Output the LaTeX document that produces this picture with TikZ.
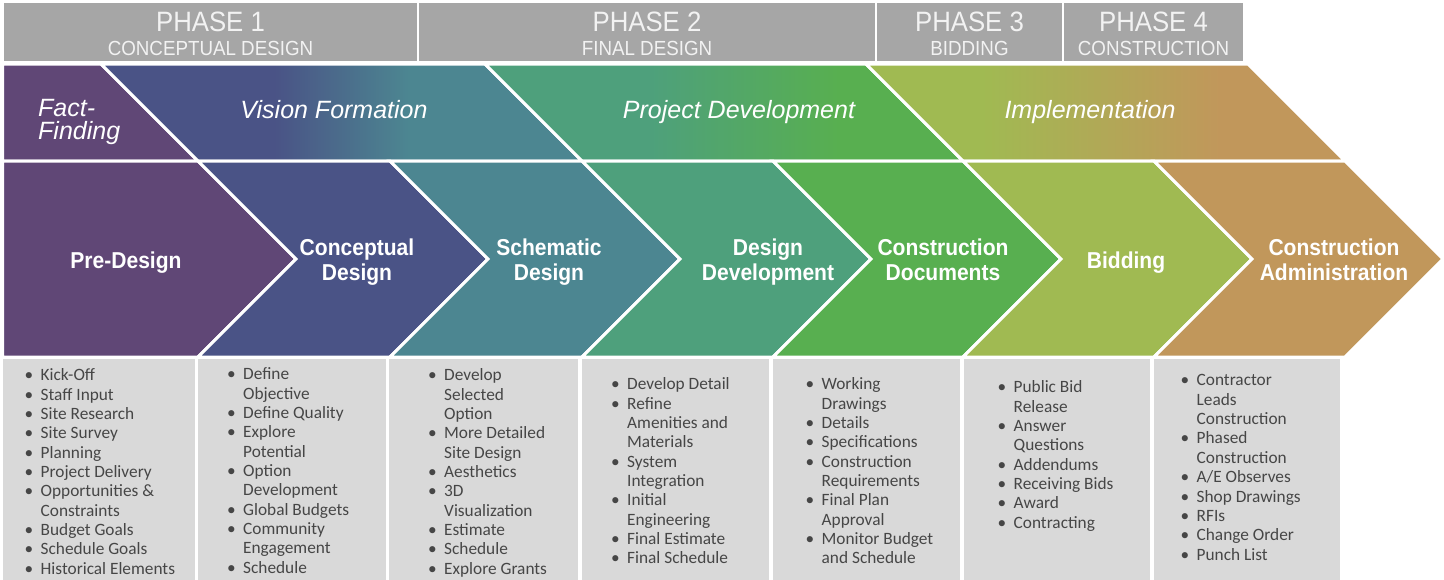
\documentclass[tikz,border=0pt]{standalone}
\usepackage{fontspec}
\setmainfont{Liberation Sans}
\newfontfamily\listfont{Carlito}
\newfontfamily\narrowfont[FakeStretch=0.92]{Liberation Sans}
\newfontfamily\boldfont[FakeStretch=0.915]{Liberation Sans}

\definecolor{phasegray}{RGB}{166,166,166}
\definecolor{phasetext}{RGB}{242,242,242}
\definecolor{listgray}{RGB}{217,217,217}
\definecolor{listtext}{RGB}{70,70,70}
\definecolor{cpurple}{RGB}{96,71,118}
\definecolor{cnavy}{RGB}{74,83,134}
\definecolor{cteal}{RGB}{76,134,145}
\definecolor{cseagreen}{RGB}{78,160,124}
\definecolor{cgreen}{RGB}{88,175,80}
\definecolor{clime}{RGB}{160,186,82}
\definecolor{ctan}{RGB}{193,151,91}

\pgfdeclarehorizontalshading{visionshade}{100bp}{color(0bp)=(cnavy); color(43bp)=(cnavy); color(57bp)=(cteal); color(100bp)=(cteal)}
\pgfdeclarehorizontalshading{projectshade}{100bp}{color(0bp)=(cseagreen); color(42bp)=(cseagreen); color(62bp)=(cgreen); color(100bp)=(cgreen)}
\pgfdeclarehorizontalshading{implementshade}{100bp}{color(0bp)=(clime); color(37bp)=(clime); color(62bp)=(ctan); color(100bp)=(ctan)}

\newcommand{\itm}[1]{\makebox[16pt][l]{\textbullet}#1}
\newcommand{\cnt}[1]{\makebox[16pt]{}#1}

\begin{document}
\begin{tikzpicture}[x=1pt, y=-1pt,
	phasebox/.style={fill=phasegray},
	phasetitle/.style={anchor=base, text=phasetext, inner sep=0, font=\narrowfont\fontsize{28}{30}\selectfont},
	phasesub/.style={anchor=base, text=phasetext, inner sep=0, font=\narrowfont\fontsize{20.4}{22}\selectfont},
	band/.style={draw=white, line width=3pt},
	stagelabel/.style={text=white, align=center, inner sep=0, font=\boldfont\bfseries\fontsize{23}{25}\selectfont},
	themelabel/.style={anchor=base, text=white, inner sep=0, align=left, font=\itshape\fontsize{25}{23}\selectfont},
	listbox/.style={fill=listgray},
	listnode/.style={anchor=north west, inner sep=0, align=left, text=listtext, font=\listfont\fontsize{17.3}{19.35}\selectfont}]
	\useasboundingbox (0,0) rectangle (1444,579);
	
	% phase header
	\fill[phasebox] (4,3) rectangle (417,61);
	\fill[phasebox] (419,3) rectangle (875,61);
	\fill[phasebox] (877,3) rectangle (1062,61);
	\fill[phasebox] (1064,3) rectangle (1243,61);
	\node[phasetitle] (ph1) at (210.5,31.7) {PHASE 1};
	\node[phasesub] (ph1sub) at (210.5,55.5) {CONCEPTUAL DESIGN};
	\node[phasetitle] (ph2) at (647,31.7) {PHASE 2};
	\node[phasesub] (ph2sub) at (647,55.5) {FINAL DESIGN};
	\node[phasetitle] (ph3) at (969.5,31.7) {PHASE 3};
	\node[phasesub] (ph3sub) at (969.5,55.5) {BIDDING};
	\node[phasetitle] (ph4) at (1153.5,31.7) {PHASE 4};
	\node[phasesub] (ph4sub) at (1153.5,55.5) {CONSTRUCTION};
	
	% upper band
	\path[band, fill=cpurple] (2.5,64) -- (101,64) -- (198,161) -- (2.5,161) -- cycle;
	\path[band, shade, shading=visionshade] (101,64) -- (485,64) -- (582,161) -- (198,161) -- cycle;
	\path[band, shade, shading=projectshade] (485,64) -- (866,64) -- (963,161) -- (582,161) -- cycle;
	\path[band, shade, shading=implementshade] (866,64) -- (1248,64) -- (1345,161) -- (963,161) -- cycle;
	\node[themelabel, anchor=north west] (factfinding) at (38,99) {Fact-\\Finding};
	\node[themelabel] (vision) at (334,118) {Vision Formation};
	\node[themelabel] (project) at (739,118) {Project Development};
	\node[themelabel] (implement) at (1090,118) {Implementation};
	
	% lower band
	\path[band, fill=cpurple] (2.5,161) -- (198,161) -- (296,259) -- (198,357) -- (2.5,357) -- cycle;
	\path[band, fill=cnavy] (198,161) -- (390,161) -- (488,259) -- (390,357) -- (198,357) -- (296,259) -- cycle;
	\path[band, fill=cteal] (390,161) -- (582,161) -- (680,259) -- (582,357) -- (390,357) -- (488,259) -- cycle;
	\path[band, fill=cseagreen] (582,161) -- (773,161) -- (871,259) -- (773,357) -- (582,357) -- (680,259) -- cycle;
	\path[band, fill=cgreen] (773,161) -- (963,161) -- (1061,259) -- (963,357) -- (773,357) -- (871,259) -- cycle;
	\path[band, fill=clime] (963,161) -- (1154,161) -- (1252,259) -- (1154,357) -- (963,357) -- (1061,259) -- cycle;
	\path[band, fill=ctan] (1154,161) -- (1345,161) -- (1443,259) -- (1345,357) -- (1154,357) -- (1252,259) -- cycle;
	\node[stagelabel] (predesign) at (126,263) {Pre-Design};
	\node[stagelabel] (conceptual) at (357,262) {Conceptual\\Design};
	\node[stagelabel] (schematic) at (549,262) {Schematic\\Design};
	\node[stagelabel] (designdev) at (768,262) {Design\\Development};
	\node[stagelabel] (constrdocs) at (943,260) {Construction\\Documents};
	\node[stagelabel] (bidding) at (1126,263) {Bidding};
	\node[stagelabel] (constradmin) at (1334,260) {Construction\\Administration};
	
	% task lists
	\fill[listbox] (3,359) rectangle (195,582);
	\fill[listbox] (198,359) rectangle (386,582);
	\fill[listbox] (389,359) rectangle (578,582);
	\fill[listbox] (582,359) rectangle (769,582);
	\fill[listbox] (773,359) rectangle (960,582);
	\fill[listbox] (964,359) rectangle (1150,582);
	\fill[listbox] (1154,359) rectangle (1340,582);
	\node[listnode] (predesignlist) at (24.5,368.5) {\itm{Kick-Off}\\\itm{Staff Input}\\\itm{Site Research}\\\itm{Site Survey}\\\itm{Planning}\\\itm{Project Delivery}\\\itm{Opportunities \&}\\\cnt{Constraints}\\\itm{Budget Goals}\\\itm{Schedule Goals}\\\itm{Historical Elements}};
	\node[listnode] (conceptuallist) at (227,367.5) {\itm{Define}\\\cnt{Objective}\\\itm{Define Quality}\\\itm{Explore}\\\cnt{Potential}\\\itm{Option}\\\cnt{Development}\\\itm{Global Budgets}\\\itm{Community}\\\cnt{Engagement}\\\itm{Schedule}};
	\node[listnode] (schematiclist) at (428,368.5) {\itm{Develop}\\\cnt{Selected}\\\cnt{Option}\\\itm{More Detailed}\\\cnt{Site Design}\\\itm{Aesthetics}\\\itm{3D}\\\cnt{Visualization}\\\itm{Estimate}\\\itm{Schedule}\\\itm{Explore Grants}};
	\node[listnode] (designdevlist) at (611,377.5) {\itm{Develop Detail}\\\itm{Refine}\\\cnt{Amenities and}\\\cnt{Materials}\\\itm{System}\\\cnt{Integration}\\\itm{Initial}\\\cnt{Engineering}\\\itm{Final Estimate}\\\itm{Final Schedule}};
	\node[listnode] (constrdocslist) at (805.5,377.5) {\itm{Working}\\\cnt{Drawings}\\\itm{Details}\\\itm{Specifications}\\\itm{Construction}\\\cnt{Requirements}\\\itm{Final Plan}\\\cnt{Approval}\\\itm{Monitor Budget}\\\cnt{and Schedule}};
	\node[listnode] (biddinglist) at (997.5,380.5) {\itm{Public Bid}\\\cnt{Release}\\\itm{Answer}\\\cnt{Questions}\\\itm{Addendums}\\\itm{Receiving Bids}\\\itm{Award}\\\itm{Contracting}};
	\node[listnode] (constradminlist) at (1180.5,374.5) {\itm{Contractor}\\\cnt{Leads}\\\cnt{Construction}\\\itm{Phased}\\\cnt{Construction}\\\itm{A/E Observes}\\\itm{Shop Drawings}\\\itm{RFIs}\\\itm{Change Order}\\\itm{Punch List}};
\end{tikzpicture}
\end{document}
